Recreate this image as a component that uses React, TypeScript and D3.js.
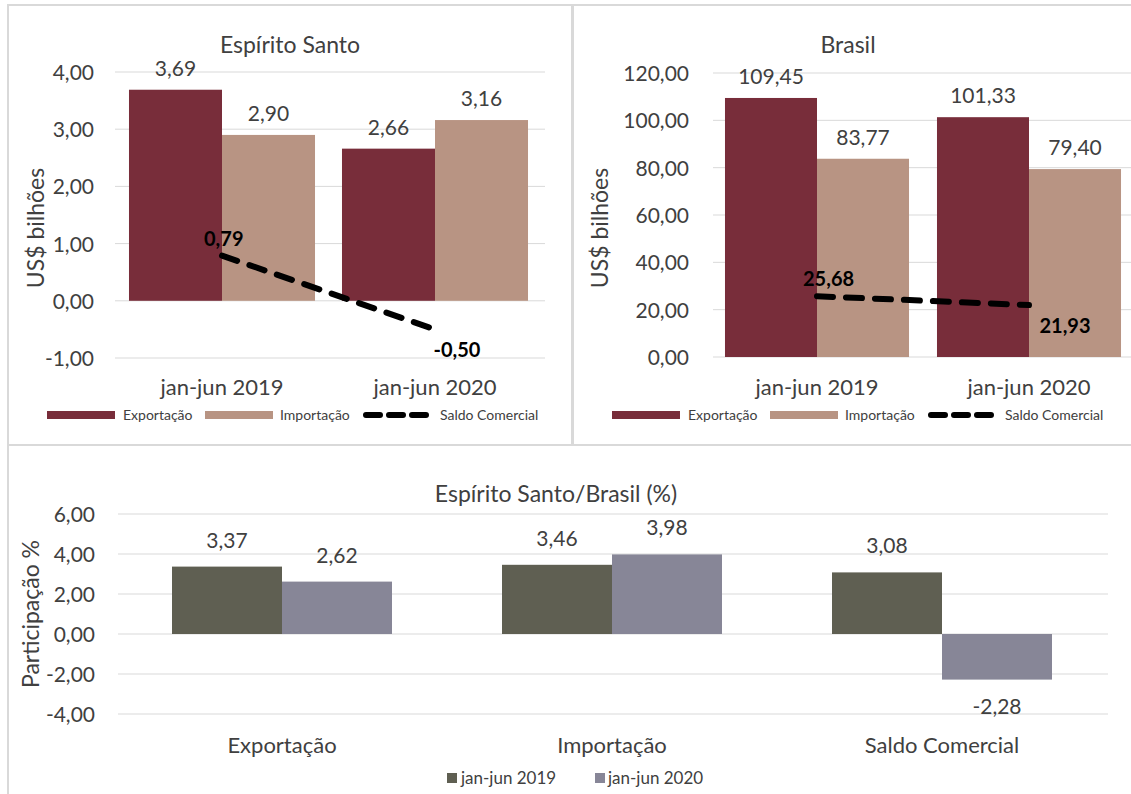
import React from 'react';
import * as d3 from 'd3';

// Data
const periods = ['jan-jun 2019', 'jan-jun 2020'];
const esExport = [3.69, 2.66];
const esImport = [2.9, 3.16];
const esSaldo = [0.79, -0.5];
const esTicks = [-1, 0, 1, 2, 3, 4];

const brExport = [109.45, 101.33];
const brImport = [83.77, 79.4];
const brSaldo = [25.68, 21.93];
const brTicks = [0, 20, 40, 60, 80, 100, 120];

const shareCats = ['Exportação', 'Importação', 'Saldo Comercial'];
const share2019 = [3.37, 3.46, 3.08];
const share2020 = [2.62, 3.98, -2.28];
const shareTicks = [-4, -2, 0, 2, 4, 6];

const legendNames = ['Exportação', 'Importação', 'Saldo Comercial'];

const EXP = '#782d3a';
const IMP = '#b89483';
const C19 = '#5f5f52';
const C20 = '#878697';
const TXT = '#404040';
const GRID = '#d9d9d9';
const FONT = 'Lato, "Open Sans", sans-serif';

const ptBR = d3.formatLocale({
  decimal: ',',
  thousands: '.',
  grouping: [3],
  currency: ['R$', ''],
  minus: '-',
});
const fmt = ptBR.format('.2f');

function TradePanel({ title, exp, imp, saldo, ticks, yRange, xRange, outer, gridX, tickX, titleX, axisTitleX, legendX, saldoDx }) {
  const y = d3.scaleLinear().domain([ticks[0], ticks[ticks.length - 1]]).range(yRange);
  const x0 = d3.scaleBand().domain(periods).range(xRange);
  const x1 = d3.scaleBand().domain(['exp', 'imp']).range([0, x0.bandwidth()]).paddingOuter(outer);
  const lineData = saldo.map((v, i) => [x0(periods[i]) + x0.bandwidth() / 2, y(v)]);
  const line = d3.line();
  const saldoDy = [-10, 28];
  const y0 = y(Math.max(0, ticks[0]));

  return (
    <g>
      <text x={titleX} y={53} textAnchor="middle" fontSize={23} fill={TXT}>{title}</text>
      {ticks.map((t) => (
        <g key={t}>
          <line x1={gridX[0]} x2={gridX[1]} y1={y(t)} y2={y(t)} stroke={GRID} strokeWidth={1} />
          <text x={tickX} y={y(t) + 8} textAnchor="end" fontSize={21} fill={TXT}>{fmt(t)}</text>
        </g>
      ))}
      <text
        transform={`translate(${axisTitleX},${(yRange[0] + yRange[1]) / 2 + 13}) rotate(-90)`}
        textAnchor="middle"
        fontSize={23}
        fill={TXT}
      >
        US$ bilhões
      </text>
      {periods.map((p, i) => {
        const bars = [
          { key: 'exp', v: exp[i], c: EXP },
          { key: 'imp', v: imp[i], c: IMP },
        ];
        return (
          <g key={p}>
            {bars.map((b) => {
              const bx = x0(p) + x1(b.key);
              return (
                <g key={b.key}>
                  <rect x={bx} y={y(b.v)} width={x1.bandwidth()} height={y0 - y(b.v)} fill={b.c} />
                  <text x={bx + x1.bandwidth() / 2} y={y(b.v) - 14} textAnchor="middle" fontSize={21} fill={TXT}>
                    {fmt(b.v)}
                  </text>
                </g>
              );
            })}
            <text x={x0(p) + x0.bandwidth() / 2} y={395} textAnchor="middle" fontSize={22} fill={TXT}>{p}</text>
          </g>
        );
      })}
      <path d={line(lineData)} fill="none" stroke="#000" strokeWidth={6} strokeDasharray="16 13" strokeLinecap="round" />
      {lineData.map(([lx, ly], i) => (
        <text
          key={i}
          x={lx + saldoDx[i]}
          y={ly + saldoDy[i]}
          textAnchor={i === 0 ? 'start' : 'middle'}
          fontSize={20}
          fontWeight="bold"
          fill="#000"
        >
          {fmt(saldo[i])}
        </text>
      ))}
      <Legend x={legendX} />
    </g>
  );
}

function Legend({ x }) {
  const offs = [
    [0, 76],
    [158, 233],
    [316, 393],
  ];
  const yy = 415;
  return (
    <g fontSize={14} fill={TXT}>
      <rect x={x + offs[0][0]} y={yy - 4} width={68} height={8} fill={EXP} />
      <rect x={x + offs[1][0]} y={yy - 4} width={68} height={8} fill={IMP} />
      <line
        x1={x + offs[2][0] + 3}
        x2={x + offs[2][0] + 68}
        y1={yy}
        y2={yy}
        stroke="#000"
        strokeWidth={6}
        strokeDasharray="14 9"
        strokeLinecap="round"
      />
      {legendNames.map((n, i) => (
        <text key={n} x={x + offs[i][1]} y={yy + 5}>{n}</text>
      ))}
    </g>
  );
}

function SharePanel() {
  const y = d3.scaleLinear().domain([-4, 6]).range([714, 514]);
  const x0 = d3.scaleBand().domain(shareCats).range([117, 1107]);
  const x1 = d3.scaleBand().domain(['a', 'b']).range([0, x0.bandwidth()]).paddingOuter(0.5);
  return (
    <g>
      <text x={556} y={502} textAnchor="middle" fontSize={23} fill={TXT}>Espírito Santo/Brasil (%)</text>
      {shareTicks.map((t) => (
        <g key={t}>
          <line x1={118} x2={1108} y1={y(t)} y2={y(t)} stroke={GRID} strokeWidth={1} />
          <text x={95} y={y(t) + 8} textAnchor="end" fontSize={21} fill={TXT}>{fmt(t)}</text>
        </g>
      ))}
      <text transform={`translate(${39},${614}) rotate(-90)`} textAnchor="middle" fontSize={23} fill={TXT}>
        Participação %
      </text>
      {shareCats.map((c, i) => {
        const bars = [
          { key: 'a', v: share2019[i], col: C19 },
          { key: 'b', v: share2020[i], col: C20 },
        ];
        return (
          <g key={c}>
            {bars.map((b) => {
              const bx = x0(c) + x1(b.key);
              const top = Math.min(y(b.v), y(0));
              const h = Math.abs(y(b.v) - y(0));
              const ly = b.v >= 0 ? y(b.v) - 19 : y(b.v) + 34;
              return (
                <g key={b.key}>
                  <rect x={bx} y={top} width={x1.bandwidth()} height={h} fill={b.col} />
                  <text x={bx + x1.bandwidth() / 2} y={ly} textAnchor="middle" fontSize={21} fill={TXT}>
                    {fmt(b.v)}
                  </text>
                </g>
              );
            })}
            <text x={x0(c) + x0.bandwidth() / 2} y={753} textAnchor="middle" fontSize={22} fill={TXT}>{c}</text>
          </g>
        );
      })}
      <g fontSize={17} fill={TXT}>
        <rect x={447} y={773} width={10} height={10} fill={C19} />
        <text x={461} y={784}>{periods[0]}</text>
        <rect x={595} y={773} width={10} height={10} fill={C20} />
        <text x={608} y={784}>{periods[1]}</text>
      </g>
    </g>
  );
}

export default function App() {
  return (
    <svg
      width={1131}
      height={794}
      style={{ position: 'absolute', left: 0, top: 0, background: '#fff' }}
      fontFamily={FONT}
    >
      <rect x={0} y={0} width={1131} height={794} fill="#fff" />
      <rect x={8} y={5} width={564} height={440} fill="none" stroke={GRID} strokeWidth={2} />
      <rect x={573} y={5} width={600} height={440} fill="none" stroke={GRID} strokeWidth={2} />
      <rect x={8} y={445} width={1200} height={400} fill="none" stroke={GRID} strokeWidth={2} />
      <TradePanel
        title="Espírito Santo"
        exp={esExport}
        imp={esImport}
        saldo={esSaldo}
        ticks={esTicks}
        yRange={[358, 72]}
        xRange={[115.5, 541.5]}
        outer={0.145}
        gridX={[115, 545]}
        tickX={94}
        titleX={290}
        axisTitleX={44}
        legendX={47}
        saldoDx={[-18, 22]}
      />
      <TradePanel
        title="Brasil"
        exp={brExport}
        imp={brImport}
        saldo={brSaldo}
        ticks={brTicks}
        yRange={[357, 73]}
        xRange={[711, 1135]}
        outer={0.152}
        gridX={[713, 1131]}
        tickX={689}
        titleX={848}
        axisTitleX={608}
        legendX={612}
        saldoDx={[-14, 36]}
      />
      <SharePanel />
    </svg>
  );
}
